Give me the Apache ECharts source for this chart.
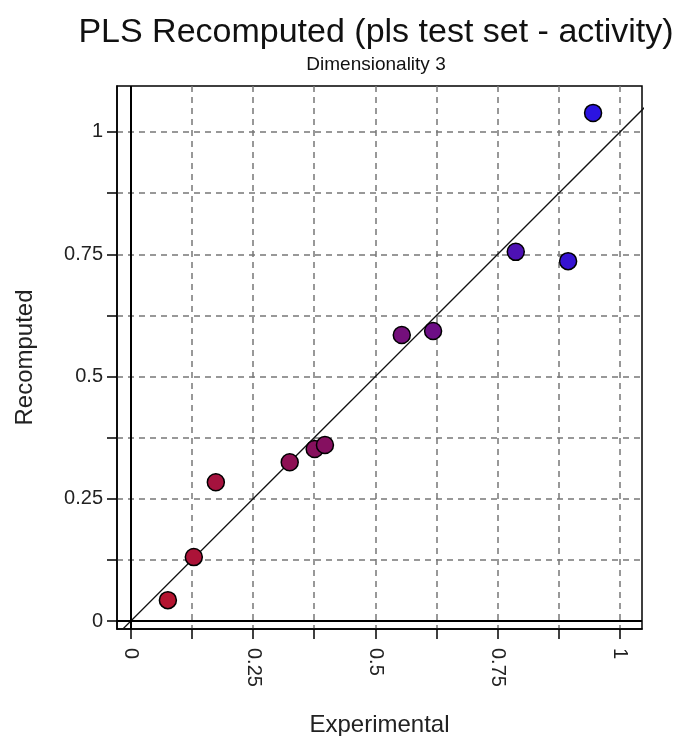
<!DOCTYPE html>
<html>
<head>
<meta charset="utf-8">
<script src="https://cdn.jsdelivr.net/npm/echarts@6/dist/echarts.min.js"></script>
<style>html,body{margin:0;padding:0;background:#fff}#c{width:676px;height:736px}</style>
</head>
<body>
<div id="c"></div>
<script>
const experimental = [0.076, 0.129, 0.174, 0.325, 0.376, 0.397, 0.554, 0.618, 0.787, 0.894, 0.945];
const recomputed   = [0.043, 0.131, 0.284, 0.325, 0.352, 0.360, 0.585, 0.593, 0.755, 0.736, 1.039];
const tickValues   = [0, 0.125, 0.25, 0.375, 0.5, 0.625, 0.75, 0.875, 1];
const labelValues  = [0, 0.25, 0.5, 0.75, 1];
const xRange = [-0.028, 1.045];
const yRange = [-0.016, 1.094];

const points = experimental.map((x, i) => [x, recomputed[i]]);
const identity = [[-0.2, -0.2], [1.3, 1.3]];
const FONT = '"Liberation Sans", Arial, sans-serif';

function axisCommon(min, max) {
  return {
    type: 'value', min: min, max: max,
    axisLine: { show: true, onZero: false, lineStyle: { color: '#000', width: 1.5 } },
    axisTick: { show: true, inside: false, length: 10, customValues: tickValues, lineStyle: { color: '#000', width: 1.5 } },
    axisLabel: { customValues: labelValues, color: '#222', fontSize: 20, fontFamily: FONT,
      formatter: v => String(Math.round(v * 1000) / 1000) },
    splitLine: { show: true, lineStyle: { color: '#777', type: [6, 5], width: 1.5 } },
    nameLocation: 'middle',
    nameTextStyle: { fontSize: 24, color: '#222', fontFamily: FONT }
  };
}

const xAxis = Object.assign(axisCommon(xRange[0], xRange[1]), { name: 'Experimental', nameGap: 84 });
xAxis.axisLabel = Object.assign({}, xAxis.axisLabel, { rotate: -90, margin: 19 });
const yAxis = Object.assign(axisCommon(yRange[0], yRange[1]), { name: 'Recomputed', nameGap: 80 });
yAxis.axisLabel = Object.assign({}, yAxis.axisLabel, { margin: 14 });

const chart = echarts.init(document.getElementById('c'), null, { renderer: 'canvas' });
chart.setOption({
  animation: false,
  backgroundColor: '#fff',
  title: {
    text: 'PLS Recomputed (pls test set - activity)',
    subtext: 'Dimensionality 3',
    left: 371, top: 11, textAlign: 'center', itemGap: 5,
    textStyle: { fontSize: 34, fontWeight: 'normal', color: '#111', fontFamily: FONT },
    subtextStyle: { fontSize: 19, color: '#111', fontFamily: FONT }
  },
  grid: { left: 117, right: 34, top: 86, bottom: 107, show: true, borderColor: '#000', borderWidth: 1.5,
    containLabel: false, outerBoundsMode: 'none' },
  xAxis: xAxis,
  yAxis: yAxis,
  visualMap: {
    show: false, type: 'continuous', dimension: 0, min: 0.05, max: 0.95, seriesIndex: 1,
    inRange: { color: ['#b8142c', '#8a1058', '#6a0e8c', '#2a14e2'] }
  },
  series: [
    {
      type: 'line', data: identity, symbol: 'none', clip: true, silent: true,
      lineStyle: { color: '#111', width: 1.3 },
      markLine: {
        silent: true, symbol: 'none', label: { show: false },
        lineStyle: { color: '#000', width: 2, type: 'solid' },
        data: [{ xAxis: 0 }, { yAxis: 0 }]
      }
    },
    {
      type: 'scatter', data: points, symbol: 'circle', symbolSize: 17, z: 5,
      itemStyle: { borderColor: '#000', borderWidth: 1.5, opacity: 1 }
    }
  ]
});
</script>
</body>
</html>
